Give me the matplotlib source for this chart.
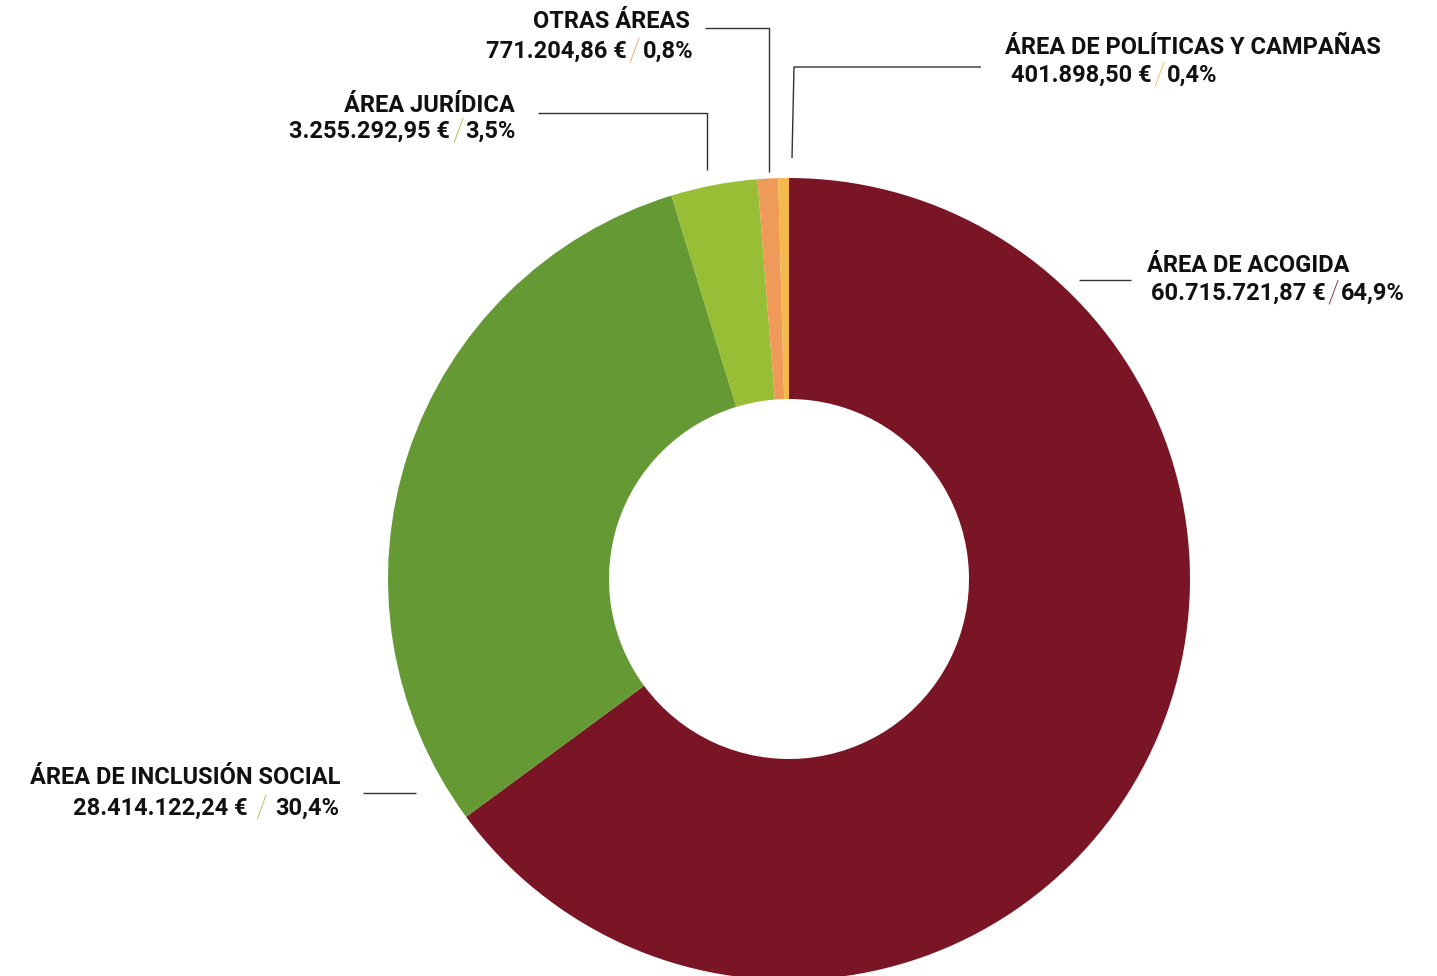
import matplotlib
matplotlib.use("Agg")
import matplotlib.pyplot as plt

categories = ["ÁREA DE ACOGIDA", "ÁREA DE INCLUSIÓN SOCIAL", "ÁREA JURÍDICA",
              "OTRAS ÁREAS", "ÁREA DE POLÍTICAS Y CAMPAÑAS"]
amounts = [60715721.87, 28414122.24, 3255292.95, 771204.86, 401898.50]
amount_labels = ["60.715.721,87 €", "28.414.122,24 €", "3.255.292,95 €",
                 "771.204,86 €", "401.898,50 €"]
pct_labels = ["64,9%", "30,4%", "3,5%", "0,8%", "0,4%"]
colors = ["#7A1525", "#659933", "#97BE35", "#F09A5A", "#F4B94A"]
slash_colors = ["#7A1525", "#8DC63F", "#97BE35", "#F09A5A", "#F4B94A"]

W, H = 1437, 976
fig = plt.figure(figsize=(W / 100, H / 100), dpi=100)
ax = fig.add_axes([0, 0, 1, 1])
ax.axis("off")

cx, cy, R = 789, H - 579, 401
ax.pie(amounts, colors=colors, startangle=90, counterclock=False,
       center=(cx, cy), radius=R,
       wedgeprops=dict(width=221, edgecolor="none", linewidth=0))
ax.set_xlim(0, W)
ax.set_ylim(0, H)
ax.set_aspect("auto")

FONT = "Roboto"
FS = 17
renderer = fig.canvas.get_renderer()

def width_of(t):
    return t.get_window_extent(renderer).width

# (x, title y, value y, align, value x offset)
layout = {
    0: (1147, 266, 293, "left", 4),
    1: (340, 778, 808, "right", -1),
    2: (515, 105, 131, "right", 1),
    3: (690, 22, 51, "right", 3),
    4: (1005, 48, 75, "left", 6),
}

for i, (x, yt, yv, align, dxv) in layout.items():
    ax.text(x, H - yt, categories[i], ha=align, va="center",
            fontsize=FS, fontweight="bold", family=FONT, color="#111111")
    pieces = [amount_labels[i], "/", pct_labels[i]]
    cols = ["#111111", slash_colors[i], "#111111"]
    weights = ["bold", "light", "bold"]
    sizes = [FS, FS + 5, FS]
    texts = []
    for p, c, w, s in zip(pieces, cols, weights, sizes):
        t = ax.text(0, H - yv, p, ha="left", va="center", fontsize=s,
                    fontweight=w, family=FONT, color=c)
        texts.append(t)
    widths = [width_of(t) for t in texts]
    gap = 2 if i != 1 else 8
    total = sum(widths) + 2 * gap
    start = x + dxv if align == "left" else x + dxv - total
    pos = start
    for t, wdt in zip(texts, widths):
        t.set_x(pos)
        pos += wdt + gap

# leader lines (pixel layout)
lc = "#333333"
lw = 1.0
def line(xs, ys):
    ax.plot(xs, [H - y for y in ys], color=lc, lw=lw, solid_capstyle="butt")

line([1079, 1131], [280, 280])
line([363, 416], [793, 793])
line([538, 707, 707], [113, 113, 170])
line([705, 769, 769], [28, 28, 172])
line([981, 794, 792], [67, 67, 158])

fig.savefig("out.png", dpi=100)
